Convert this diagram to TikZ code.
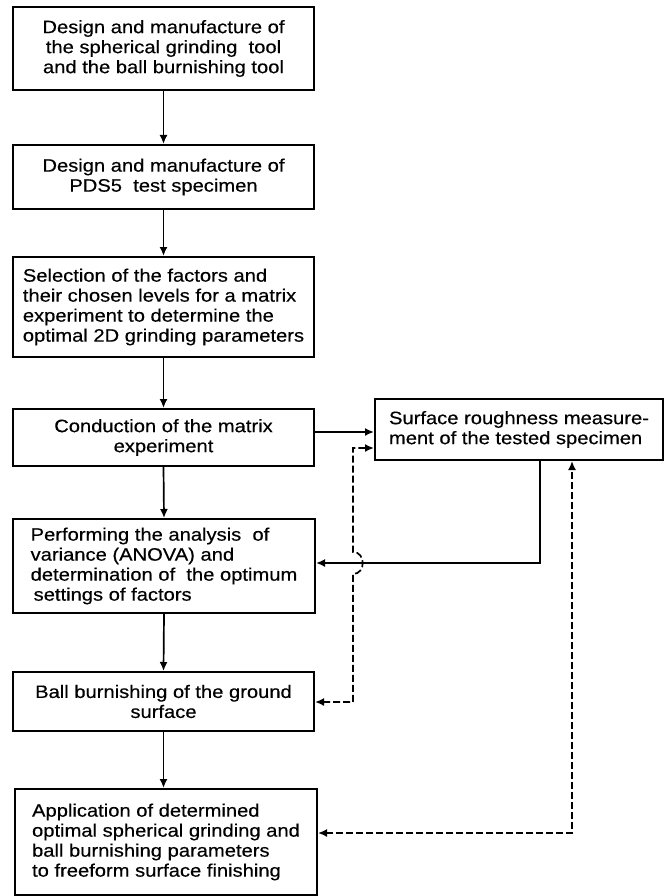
\documentclass[tikz,border=0pt]{standalone}
\usepackage{fontspec}
\setmainfont{Liberation Sans}[FakeStretch=1.12,FakeBold=0.4]
\usetikzlibrary{arrows.meta,calc}
\begin{document}
\begin{tikzpicture}[x=1pt,y=-1pt,
  font=\fontsize{18}{20}\selectfont,
  box/.style={draw, line width=2pt, inner sep=0pt},
  flow/.style={line width=1.7pt, -{Latex[length=9pt,width=8pt]}},
  fb/.style={line width=1.7pt, dash pattern=on 7pt off 3pt,
             {Latex[length=9pt,width=8pt]}-{Latex[length=9pt,width=8pt]}}]
\useasboundingbox (0,0) rectangle (670,896);

\node[box, minimum width=301pt, minimum height=83pt, align=center] (b1) at (163.5,48.5)
  {Design and manufacture of\\the spherical grinding\ \ tool\\and the ball burnishing tool};
\node[box, minimum width=301pt, minimum height=64pt, align=center] (b2) at (163.5,177)
  {Design and manufacture of\\PDS5\ \ test specimen};
\node[box, minimum width=301pt, minimum height=100pt, align=left] (b3) at (163.5,307)
  {Selection of the factors and\\their chosen levels for a matrix\\experiment to determine the\\optimal 2D grinding parameters};
\node[box, minimum width=301pt, minimum height=57pt, align=center] (b4) at (163.5,437.5)
  {Conduction of the matrix\\experiment};
\node[box, minimum width=302pt, minimum height=94pt, align=left] (b5) at (164,566)
  {Performing the analysis\ \ of\\variance (ANOVA) and\\determination of\ \ the optimum\\\hspace*{3pt}settings of factors};
\node[box, minimum width=301pt, minimum height=59pt, align=center] (b6) at (163.5,701.5)
  {Ball burnishing of the ground\\surface};
\node[box, minimum width=302pt, minimum height=106pt, align=left] (b7) at (166,842)
  {Application of determined\\optimal spherical grinding and\\ball burnishing parameters\\to freeform surface finishing};
\node[box, minimum width=288pt, minimum height=61pt, align=left] (r) at (519,429.5)
  {Surface roughness measure-\\ment of the tested specimen};

\draw[flow] (b1.south) -- (b2.north);
\draw[flow] (b2.south) -- (b3.north);
\draw[flow] (b3.south) -- (b4.north);
\draw[flow] (b4.south) -- (b5.north);
\draw[flow] (b5.south) -- (b6.north);
\draw[flow] (b6.south) -- (b6.south |- b7.north);

\coordinate (q) at (340,432);
\draw[flow] (b4.east |- q) -- (r.west |- q);

\coordinate (p1) at (540,563);
\draw[flow] (r.south -| p1) -- (p1) -- (b5.east |- p1);

\coordinate (d1) at (353,448);
\coordinate (d2) at (353,702);
\coordinate (k1) at (353,574);
\coordinate (k2) at (353,552);
\draw[fb] (b6.east |- d2) -- (d2) -- (k1) .. controls (366,574) and (366,552) .. (k2) -- (d1) -- (r.west |- d1);

\coordinate (e) at (572,833);
\draw[fb] (b7.east |- e) -- (e) -- (r.south -| e);
\end{tikzpicture}
\end{document}
